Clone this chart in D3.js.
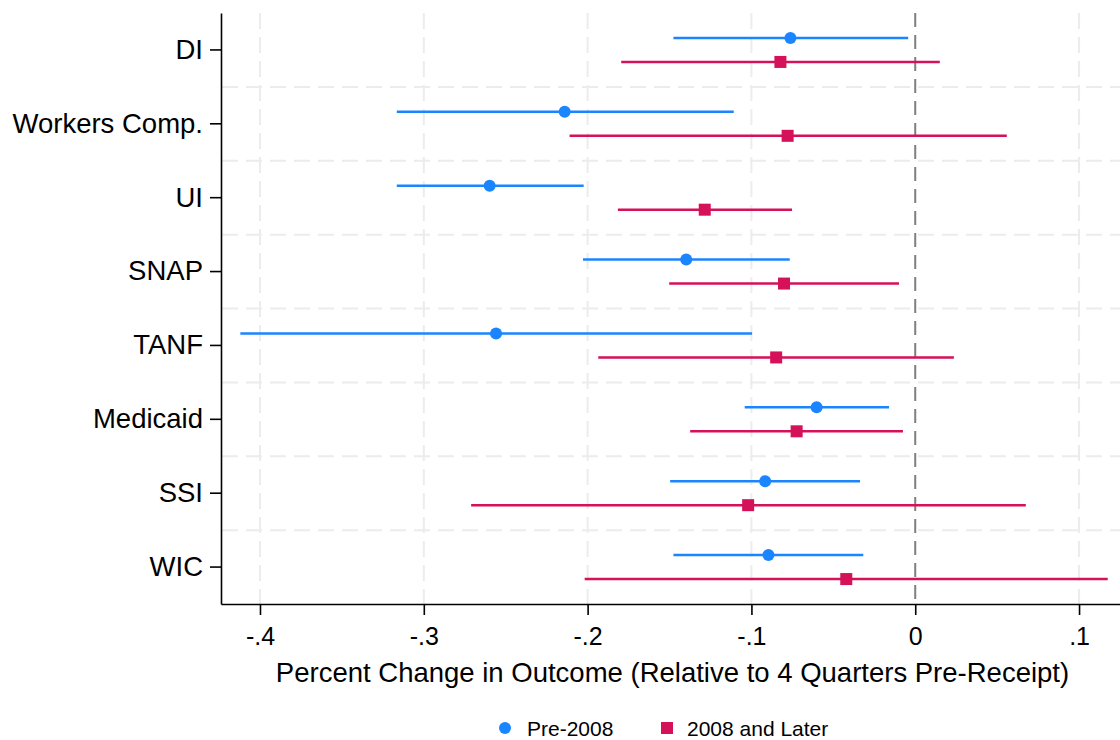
<!DOCTYPE html>
<html>
<head>
<meta charset="utf-8">
<script src="https://cdn.jsdelivr.net/npm/d3@7"></script>
<style>
  body { margin: 0; background: #fff; }
  svg text { font-family: "Liberation Sans", Arial, sans-serif; fill: #000; }
</style>
</head>
<body>
<div id="chart"></div>
<script>
// Programs, top to bottom
var programs = ["DI", "Workers Comp.", "UI", "SNAP", "TANF", "Medicaid", "SSI", "WIC"];

// Pre-2008 estimates and 95% CI
var preEst = [-0.0762, -0.2140, -0.2598, -0.1398, -0.2559, -0.0602, -0.0916, -0.0896];
var preLo  = [-0.1476, -0.3165, -0.3165, -0.2028, -0.4120, -0.1041, -0.1496, -0.1476];
var preHi  = [-0.0043, -0.1108, -0.2024, -0.0766, -0.0996, -0.0160, -0.0337, -0.0317];

// 2008 and later estimates and 95% CI
var postEst = [-0.0823, -0.0779, -0.1285, -0.0801, -0.0849, -0.0724, -0.1020, -0.0421];
var postLo  = [-0.1795, -0.2110, -0.1815, -0.1502, -0.1935, -0.1374, -0.2711, -0.2018];
var postHi  = [ 0.0150,  0.0559, -0.0752, -0.0099,  0.0236, -0.0075,  0.0675,  0.1175];

var xTicks = [-0.4, -0.3, -0.2, -0.1, 0, 0.1];
var xTickLabels = ["-.4", "-.3", "-.2", "-.1", "0", ".1"];

var blue = "#1a85ff", red = "#d41159";

var margin = {top: 13, right: 0, bottom: 136, left: 221},
    width = 1120 - margin.left - margin.right,
    height = 740 - margin.top - margin.bottom;

var svg = d3.select("#chart")
    .append("svg")
    .attr("width", 1120)
    .attr("height", 740)
    .append("g")
    .attr("transform", "translate(" + margin.left + "," + margin.top + ")");

var x = d3.scaleLinear()
    .domain([-0.4238, 0.125])
    .range([0, width]);

var y = d3.scaleBand()
    .domain(programs)
    .range([0, height]);

// grid lines
svg.selectAll(".vgrid")
    .data(xTicks.filter(function(d) { return d !== 0; }))
    .enter().append("line")
    .attr("x1", function(d) { return x(d); })
    .attr("x2", function(d) { return x(d); })
    .attr("y1", 0)
    .attr("y2", height)
    .style("stroke", "#ececec")
    .style("stroke-width", 2)
    .style("stroke-dasharray", "16,8");

svg.selectAll(".hgrid")
    .data(programs.slice(1))
    .enter().append("line")
    .attr("x1", 1)
    .attr("x2", width)
    .attr("y1", function(d) { return y(d); })
    .attr("y2", function(d) { return y(d); })
    .style("stroke", "#ececec")
    .style("stroke-width", 2)
    .style("stroke-dasharray", "16,8");

// zero reference line
svg.append("line")
    .attr("x1", x(0))
    .attr("x2", x(0))
    .attr("y1", 0)
    .attr("y2", height)
    .style("stroke", "#7f7f7f")
    .style("stroke-width", 2)
    .style("stroke-dasharray", "14,8");

var off = 12;

function drawSeries(est, lo, hi, color, dy, square) {
    var g = svg.append("g");
    g.selectAll("line")
        .data(programs)
        .enter().append("line")
        .attr("x1", function(d, i) { return x(lo[i]); })
        .attr("x2", function(d, i) { return x(hi[i]); })
        .attr("y1", function(d) { return y(d) + y.bandwidth() / 2 + dy; })
        .attr("y2", function(d) { return y(d) + y.bandwidth() / 2 + dy; })
        .style("stroke", color)
        .style("stroke-width", 2.5);
    if (square) {
        g.selectAll("rect")
            .data(programs)
            .enter().append("rect")
            .attr("x", function(d, i) { return x(est[i]) - 6; })
            .attr("y", function(d) { return y(d) + y.bandwidth() / 2 + dy - 6; })
            .attr("width", 12)
            .attr("height", 12)
            .style("fill", color);
    } else {
        g.selectAll("circle")
            .data(programs)
            .enter().append("circle")
            .attr("cx", function(d, i) { return x(est[i]); })
            .attr("cy", function(d) { return y(d) + y.bandwidth() / 2 + dy; })
            .attr("r", 6)
            .style("fill", color);
    }
}

drawSeries(preEst, preLo, preHi, blue, -off, false);
drawSeries(postEst, postLo, postHi, red, off, true);

// axes
var xAxis = svg.append("g")
    .attr("transform", "translate(0," + height + ")")
    .call(d3.axisBottom(x).tickValues(xTicks)
        .tickFormat(function(d, i) { return xTickLabels[i]; })
        .tickSize(11).tickPadding(12).tickSizeOuter(0));
xAxis.selectAll("text").style("font-size", "25px");

var yAxis = svg.append("g")
    .call(d3.axisLeft(y).tickSize(11).tickPadding(7).tickSizeOuter(0));
yAxis.selectAll("text").style("font-size", "27.5px");

svg.selectAll(".domain, .tick line")
    .style("stroke", "#000")
    .style("stroke-width", 1.6);

svg.append("text")
    .attr("text-anchor", "middle")
    .attr("x", width / 2 + 2)
    .attr("y", height + 78)
    .style("font-size", "27.5px")
    .text("Percent Change in Outcome (Relative to 4 Quarters Pre-Receipt)");

// legend
var legend = svg.append("g")
    .attr("transform", "translate(0," + (height + 124) + ")");
legend.append("circle")
    .attr("cx", 505 - margin.left)
    .attr("cy", 0)
    .attr("r", 6)
    .style("fill", blue);
legend.append("text")
    .attr("x", 527 - margin.left)
    .attr("y", 8)
    .style("font-size", "21px")
    .text("Pre-2008");
legend.append("rect")
    .attr("x", 667 - margin.left - 6)
    .attr("y", -6)
    .attr("width", 12)
    .attr("height", 12)
    .style("fill", red);
legend.append("text")
    .attr("x", 687 - margin.left)
    .attr("y", 8)
    .style("font-size", "21px")
    .text("2008 and Later");
</script>
</body>
</html>
